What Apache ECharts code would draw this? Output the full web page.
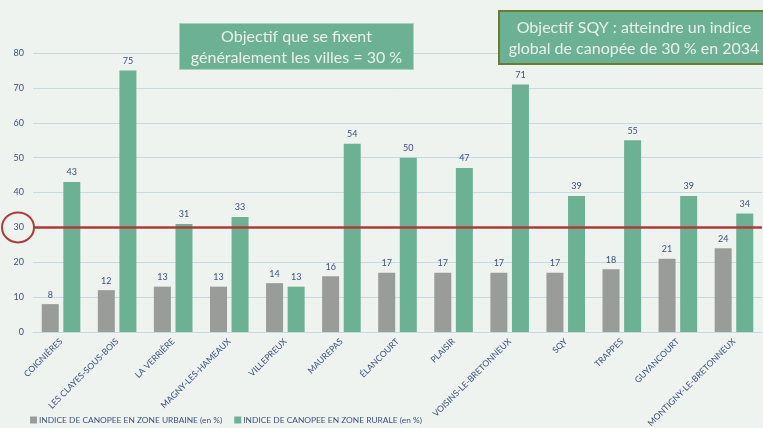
<!DOCTYPE html>
<html>
<head>
<meta charset="utf-8">
<script src="https://cdn.jsdelivr.net/npm/echarts@6/dist/echarts.min.js"></script>
<style>
  html, body { margin: 0; padding: 0; background: #EEF3EF; }
  #chart { width: 763px; height: 428px; }
</style>
</head>
<body>
<div id="chart"></div>
<script>
// Communes and canopy indices (%)
const communes = [
  'COIGNIÈRES', 'LES CLAYES-SOUS-BOIS', 'LA VERRIÈRE', 'MAGNY-LES-HAMEAUX',
  'VILLEPREUX', 'MAUREPAS', 'ÉLANCOURT', 'PLAISIR', 'VOISINS-LE-BRETONNEUX',
  'SQY', 'TRAPPES', 'GUYANCOURT', 'MONTIGNY-LE-BRETONNEUX'
];
const urbaine = [8, 12, 13, 13, 14, 16, 17, 17, 17, 17, 18, 21, 24];
const rurale = [43, 75, 31, 33, 13, 54, 50, 47, 71, 39, 55, 39, 34];
const objectif = 30;
const yTicks = [0, 10, 20, 30, 40, 50, 60, 70, 80];

const seriesNames = [
  'INDICE DE CANOPEE EN ZONE URBAINE (en %)',
  'INDICE DE CANOPEE EN ZONE RURALE (en %)'
];

const textBlue = '#3B5283';
const font = 'Lato, "Open Sans", sans-serif';

const chart = echarts.init(document.getElementById('chart'));

const valueLabel = {
  show: true, position: 'top', distance: 5,
  color: textBlue, fontSize: 9, fontFamily: font
};

chart.setOption({
  backgroundColor: '#EEF3EF',
  animation: false,
  grid: { left: 33, right: 1, top: 53, bottom: 96, containLabel: false, outerBoundsMode: 'none' },
  legend: {
    left: 25, bottom: -1, itemWidth: 7, itemHeight: 7, itemGap: 12,
    icon: 'rect',
    textStyle: { color: textBlue, fontSize: 8.4, fontFamily: font, padding: [0, 0, 0, -3] },
    data: seriesNames
  },
  xAxis: {
    type: 'category',
    data: communes,
    axisLine: { lineStyle: { color: '#C8D9E6', width: 1 } },
    axisTick: { show: false },
    axisLabel: {
      rotate: 45, interval: 0, margin: 8,
      color: textBlue, fontSize: 8.6, fontFamily: font
    }
  },
  yAxis: {
    type: 'value', min: yTicks[0], max: yTicks[yTicks.length - 1], interval: 10,
    axisLine: { show: false }, axisTick: { show: false },
    axisLabel: { color: textBlue, fontSize: 9, fontFamily: font, margin: 9 },
    splitLine: { lineStyle: { color: '#C8D9E6', width: 1 } }
  },
  series: [
    {
      name: seriesNames[0], type: 'bar', data: urbaine,
      barWidth: 17, barGap: '27%',
      itemStyle: { color: '#9A9C99' },
      label: valueLabel
    },
    {
      name: seriesNames[1], type: 'bar', data: rurale,
      barWidth: 17,
      itemStyle: { color: '#6CB193' },
      label: valueLabel,
      markLine: {
        silent: true, symbol: 'none', label: { show: false },
        lineStyle: { color: '#B03A3A', width: 2.5, type: 'solid' },
        data: [{ yAxis: objectif }]
      }
    }
  ]
});

// Annotation boxes and the ring around the 30 % tick
const y30 = chart.convertToPixel({ yAxisIndex: 0 }, objectif);
chart.setOption({
  graphic: [
    {
      type: 'ellipse',
      shape: { cx: 18, cy: y30, rx: 16, ry: 15 },
      style: { fill: 'none', stroke: '#B03A3A', lineWidth: 2 },
      z: 100
    },
    {
      type: 'group', left: 179, top: 23, z: 100,
      children: [
        {
          type: 'rect', shape: { x: 0, y: 0, width: 234, height: 46 },
          style: { fill: '#6CB193', stroke: '#A8D2BE', lineWidth: 1 }
        },
        {
          type: 'text', x: 117, y: 24,
          style: {
            text: 'Objectif que se fixent\ngénéralement les villes = 30 %',
            fill: '#E9F1EC', font: '16px ' + font, align: 'center',
            verticalAlign: 'middle', lineHeight: 21
          }
        }
      ]
    },
    {
      type: 'group', left: 498, top: 10, z: 100,
      children: [
        {
          type: 'rect', shape: { x: 0, y: 0, width: 270, height: 53 },
          style: { fill: '#6CB193', stroke: '#6B7B33', lineWidth: 2 }
        },
        {
          type: 'text', x: 135, y: 27,
          style: {
            text: 'Objectif SQY : atteindre un indice\nglobal de canopée de 30 % en 2034',
            fill: '#E9F1EC', font: '16px ' + font, align: 'center',
            verticalAlign: 'middle', lineHeight: 21
          }
        }
      ]
    }
  ]
});
</script>
</body>
</html>
